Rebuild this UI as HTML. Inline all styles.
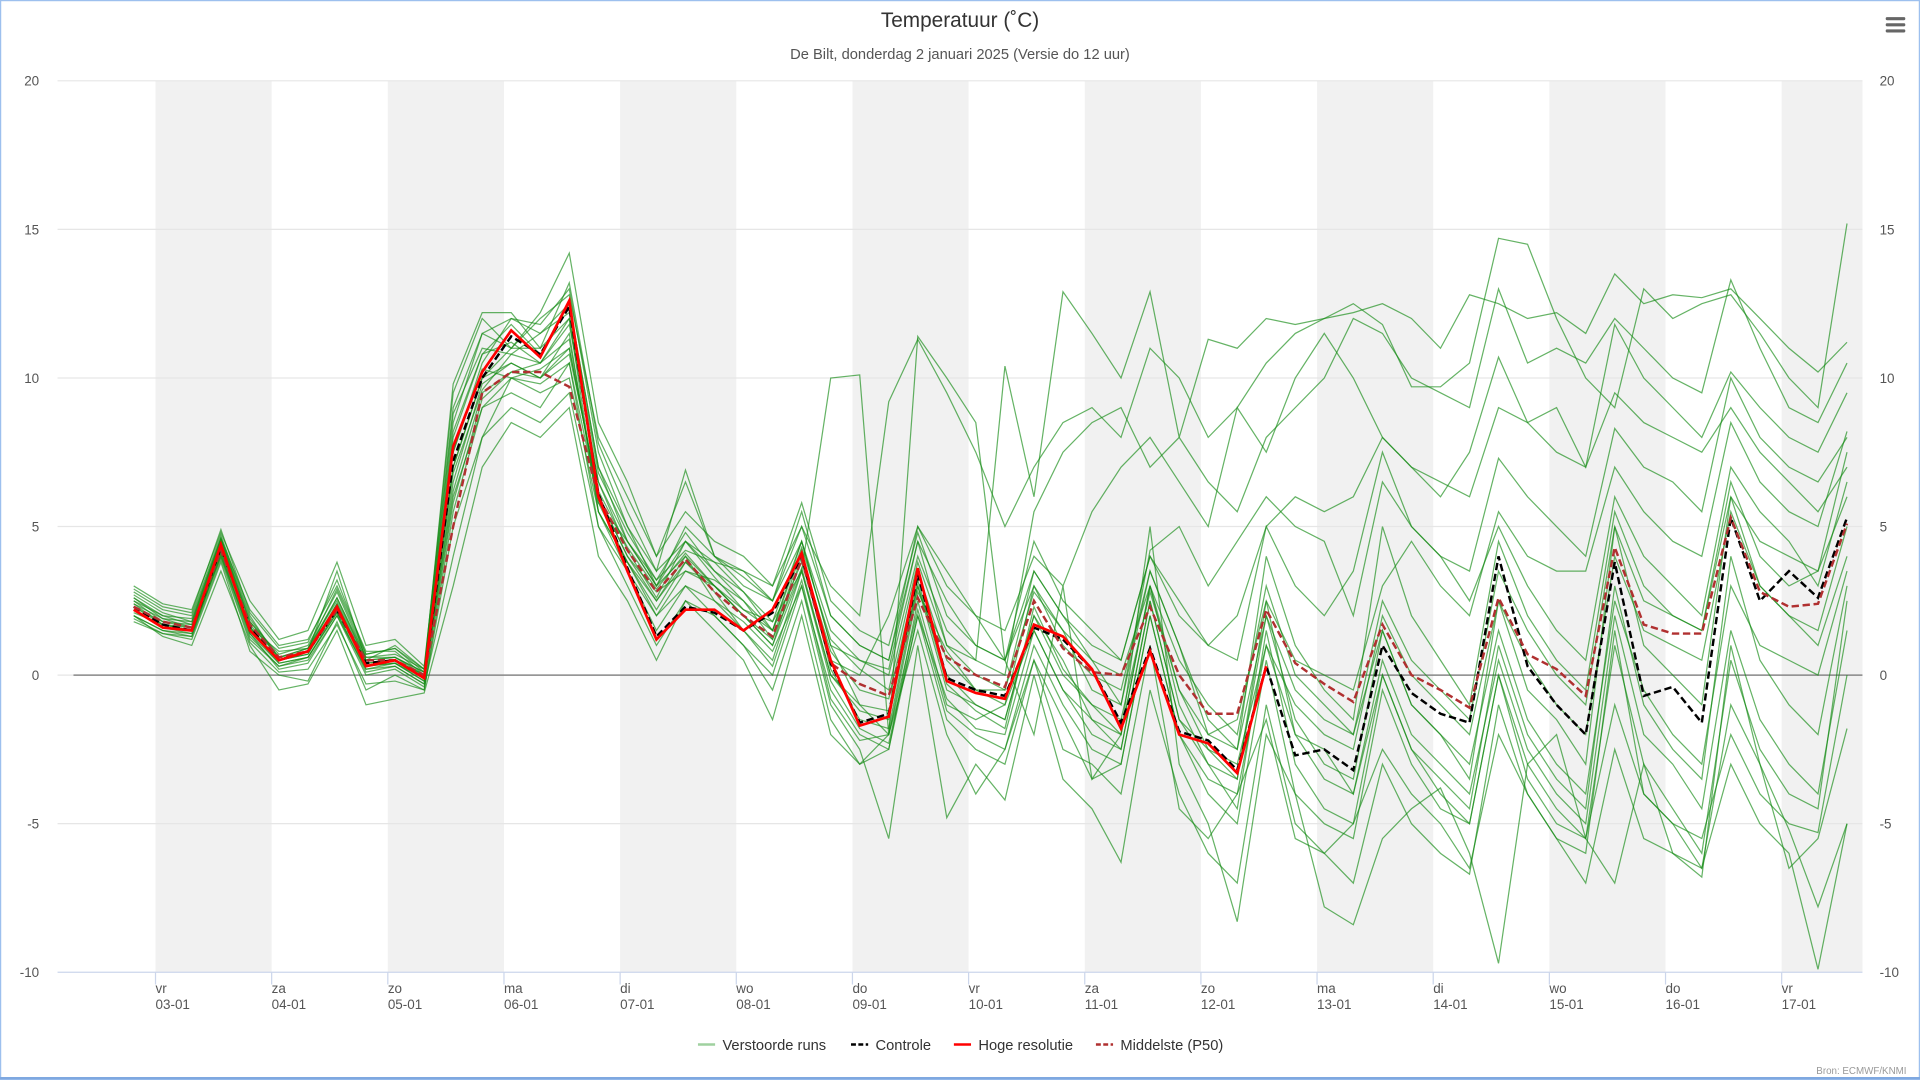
<!DOCTYPE html>
<html><head><meta charset="utf-8">
<style>
html,body{margin:0;padding:0;background:#fff;width:1920px;height:1080px;overflow:hidden}
svg{display:block;font-family:"Liberation Sans",sans-serif}
</style></head>
<body>
<svg id="chart" width="1920" height="1080" viewBox="0 0 1568 882" preserveAspectRatio="none" xmlns="http://www.w3.org/2000/svg">
<rect x="0.5" y="0.5" width="1567" height="881" fill="#fff" stroke="#9dc0ee" stroke-width="1"/>
<line x1="0" y1="880.5" x2="1568" y2="880.5" stroke="#7fa8e0" stroke-width="2"/>
<g id="bands"></g><g id="grid"></g><g id="series"></g><g id="axes"></g>
<text x="784" y="22" text-anchor="middle" font-size="17" fill="#333">Temperatuur (˚C)</text>
<text x="784" y="48" text-anchor="middle" font-size="12" fill="#555">De Bilt, donderdag 2 januari 2025 (Versie do 12 uur)</text>
<g>
<rect x="1540" y="14" width="16" height="2.5" rx="1" fill="#666"/><rect x="1540" y="19" width="16" height="2.5" rx="1" fill="#666"/><rect x="1540" y="24" width="16" height="2.5" rx="1" fill="#666"/>
</g>
<g font-size="12" fill="#333">
<g><line x1="570" y1="853" x2="584" y2="853" stroke="#9fd19f" stroke-width="2"/><text x="590" y="857.5">Verstoorde runs</text></g>
<g><line x1="695" y1="853" x2="709" y2="853" stroke="#000" stroke-width="2" stroke-dasharray="4,2"/><text x="715" y="857.5">Controle</text></g>
<g><line x1="779" y1="853" x2="793" y2="853" stroke="#f00" stroke-width="2"/><text x="799" y="857.5">Hoge resolutie</text></g>
<g><line x1="895" y1="853" x2="909" y2="853" stroke="#b03030" stroke-width="2" stroke-dasharray="4,2"/><text x="915" y="857.5">Middelste (P50)</text></g>
</g>
<text x="1557" y="877" text-anchor="end" font-size="8" fill="#999">Bron: ECMWF/KNMI</text>
</svg>
<script>
const dayNames=["vr","za","zo","ma","di","wo","do","vr","za","zo","ma","di","wo","do","vr"];
const dayDates=["03-01","04-01","05-01","06-01","07-01","08-01","09-01","10-01","11-01","12-01","13-01","14-01","15-01","16-01","17-01"];
const yTicks=[20,15,10,5,0,-5,-10];
const hres=[2.2,1.6,1.5,4.4,1.5,0.5,0.8,2.3,0.3,0.5,-0.1,7.7,10.2,11.6,10.7,12.6,6.0,3.5,1.2,2.2,2.2,1.5,2.2,4.1,0.5,-1.7,-1.4,3.6,-0.2,-0.6,-0.8,1.7,1.3,0.2,-1.8,0.8,-2.0,-2.3,-3.3,0.3];
const controle=[2.3,1.7,1.5,4.3,1.6,0.5,0.8,2.2,0.4,0.5,-0.1,7.2,10.0,11.4,10.8,12.4,6.1,3.6,1.3,2.3,2.1,1.5,2.1,4.0,0.4,-1.6,-1.3,3.4,-0.1,-0.5,-0.7,1.6,1.2,0.2,-1.6,0.9,-1.9,-2.2,-3.2,0.3,-2.7,-2.5,-3.2,1.0,-0.6,-1.3,-1.6,4.0,0.3,-1.0,-2.0,3.8,-0.7,-0.4,-1.6,5.3,2.5,3.5,2.6,5.3];
const p50=[2.3,1.8,1.6,4.2,1.7,0.6,0.8,2.2,0.5,0.5,0.0,5.0,9.5,10.2,10.2,9.7,6.0,4.2,2.8,3.9,2.8,2.0,1.3,3.9,0.4,-0.3,-0.7,2.6,0.6,0.0,-0.4,2.5,0.9,0.1,0.0,2.3,0.0,-1.3,-1.3,2.2,0.4,-0.3,-0.9,1.7,0.0,-0.5,-1.1,2.6,0.7,0.2,-0.7,4.3,1.7,1.4,1.4,5.3,2.8,2.3,2.4,5.1];
const m1=[2.5,1.8,1.7,4.5,1.8,0.7,1.0,2.8,0.6,0.7,0.2,8.5,11.5,12.0,11.8,13.0,7.5,5.0,3.0,4.5,3.5,2.8,1.5,4.5,1.0,0.5,0.2,4.5,1.0,0.5,10.4,6.0,12.9,11.5,10.0,12.9,8.0,11.3,11.0,12.0,11.8,12.0,12.2,12.5,12.0,11.0,12.8,12.5,12.0,12.2,11.5,13.5,12.5,12.8,12.7,13.0,12.0,11.0,10.2,11.2];
const m2=[2.0,1.5,1.4,4.0,1.2,0.3,0.5,2.0,0.2,0.3,-0.3,6.5,9.8,10.5,10.0,11.5,5.5,3.8,2.0,3.5,3.0,2.2,1.8,3.5,10.0,10.1,-2.0,11.4,10.0,8.5,0.5,-2.0,3.0,-3.5,-2.0,5.0,-3.0,-5.0,-8.3,-2.0,-4.0,-7.8,-8.4,-5.5,-4.5,-3.8,-6.0,-9.7,-3.0,-2.0,-5.5,-7.0,-3.0,-6.0,-6.8,1.0,-3.0,-5.2,-7.8,-5.0];
const m3=[2.8,2.2,2.0,4.7,2.0,0.5,0.8,3.5,0.5,1.0,0.2,9.5,12.0,11.0,12.0,12.8,8.0,6.0,4.0,6.5,4.0,3.5,3.0,5.0,3.0,2.0,9.2,11.3,9.5,7.5,5.0,7.0,8.5,9.0,8.0,11.0,10.0,8.0,9.0,10.5,11.5,12.0,12.5,11.8,9.7,9.7,10.5,14.7,14.5,12.0,10.0,9.0,13.0,12.0,12.5,12.8,11.5,10.0,9.0,15.2];
const m4=[1.8,1.4,1.2,3.8,0.8,0.0,-0.2,1.8,-0.5,0.0,-0.5,5.0,8.0,9.0,8.5,9.5,5.0,3.5,1.5,3.0,2.0,1.0,-0.5,2.5,-1.5,-3.0,-2.5,2.0,-1.5,-2.5,-3.0,0.5,-2.5,-3.0,-4.0,1.0,-4.5,-5.5,-4.0,-1.5,-5.5,-6.0,-5.0,-2.5,-4.0,-5.0,-6.5,-2.0,-4.0,-5.5,-6.0,1.5,-4.0,-5.0,-6.5,-1.0,-3.0,-6.5,-5.5,-1.8];
const m5=[2.6,2.0,1.9,4.6,2.2,1.0,1.2,3.0,0.8,0.8,0.0,7.5,10.5,12.0,11.5,12.5,7.0,4.5,3.0,5.0,4.0,3.0,2.5,5.5,2.0,1.0,0.5,5.0,3.0,2.0,1.5,4.0,3.0,5.5,7.0,8.0,6.5,5.0,9.0,7.5,10.0,11.5,10.0,8.0,7.0,6.0,7.5,10.7,8.5,9.0,7.0,11.8,10.0,9.0,8.0,10.2,9.0,8.0,7.5,9.5];
const m6=[2.2,1.6,1.5,4.2,1.5,0.4,0.6,2.2,0.3,0.4,-0.2,6.0,9.0,10.0,10.3,11.0,6.0,4.0,2.5,4.0,2.5,1.5,0.5,3.5,0.0,-1.0,-1.2,3.0,0.0,-1.0,-1.5,2.0,0.5,-1.5,-2.0,3.0,-1.0,-3.0,-4.5,1.5,-3.0,-4.5,-5.0,0.0,-2.5,-3.5,-4.5,1.0,-2.0,-3.5,-4.5,3.0,-1.0,-2.5,-3.5,4.0,0.5,-1.0,-2.0,3.0];
const m7=[3.0,2.4,2.2,4.8,2.5,1.2,1.5,3.8,1.0,1.2,0.3,9.0,11.5,11.0,12.2,14.2,8.5,6.5,4.0,5.5,4.5,4.0,3.0,5.8,2.5,1.5,1.0,4.8,2.0,1.0,0.5,3.5,2.0,1.0,0.5,4.0,2.0,1.0,0.5,5.0,3.0,2.0,3.5,7.5,5.0,4.0,3.5,7.3,6.0,5.0,4.0,8.3,7.0,6.5,5.5,10.0,8.0,7.0,6.5,8.0];
const m8=[2.0,1.3,1.0,3.5,1.0,-0.5,-0.3,1.5,-1.0,-0.8,-0.6,3.0,7.0,8.5,8.0,9.0,4.0,2.5,0.5,2.5,1.5,0.5,-1.5,2.0,-2.0,-3.0,-2.0,1.5,-2.0,-4.0,-2.5,0.5,-1.5,-3.5,-3.0,2.0,-2.0,-4.0,-5.0,0.5,-4.0,-5.0,-5.5,-0.5,-3.0,-4.5,-5.0,0.0,-3.5,-5.0,-5.5,-1.0,-4.0,-5.0,-5.5,-2.0,-4.0,-5.0,-5.3,0.0];
const m9=[2.4,1.9,1.6,4.3,1.6,0.8,0.9,2.5,0.5,0.6,0.0,7.0,10.0,11.0,11.0,12.0,6.5,4.5,3.0,4.0,3.0,2.0,1.0,4.0,0.8,-0.5,-0.8,3.5,0.5,-0.5,-1.0,3.0,1.5,-0.5,-1.0,3.5,1.0,-1.5,-2.5,4.0,1.0,-0.5,-1.5,5.0,2.0,0.5,-1.0,4.5,2.0,0.5,-0.5,5.5,3.0,2.0,1.5,6.5,4.0,3.0,3.5,7.5];
const m10=[2.1,1.7,1.5,4.0,1.4,0.2,0.4,2.0,0.0,0.2,-0.4,4.0,8.0,10.0,9.5,10.0,5.5,3.5,2.0,3.0,2.5,1.8,0.8,3.0,-0.5,-2.0,-2.5,2.5,-1.0,-1.5,-1.0,1.5,-0.5,-2.0,-2.5,2.5,-1.5,-2.5,-3.5,2.0,-1.5,-3.0,-3.5,1.5,-1.0,-2.0,-3.5,2.5,-0.5,-1.5,-3.0,5.0,1.0,0.0,-1.0,6.0,3.0,2.0,1.5,5.0];
const m11=[2.7,2.1,1.8,4.6,1.9,0.6,0.8,2.6,0.6,0.6,0.1,8.0,10.8,11.8,10.8,12.5,7.0,5.0,3.5,4.5,3.8,2.8,1.8,4.5,1.5,0.5,0.0,4.0,1.5,0.5,0.0,5.5,7.5,8.5,9.0,7.0,8.0,6.5,5.5,8.0,9.0,10.0,12.0,11.5,10.0,9.5,9.0,13.0,10.5,11.0,10.5,12.0,11.0,10.0,9.5,13.3,11.0,9.0,8.5,10.5];
const m12=[1.9,1.4,1.3,3.9,1.1,0.1,0.2,1.7,-0.3,-0.2,-0.5,5.5,9.0,9.5,9.0,10.5,5.0,3.0,1.0,2.5,2.0,1.0,0.0,3.0,-1.0,-2.5,-5.5,1.0,-4.8,-3.0,-4.2,0.0,-3.5,-4.5,-6.3,-0.5,-4.0,-6.0,-7.0,-1.0,-5.0,-6.0,-7.0,-3.0,-5.0,-6.0,-6.7,-1.0,-4.0,-5.5,-7.0,-2.5,-5.5,-6.0,-6.5,-3.0,-5.0,-6.0,-9.9,-5.0];
const m13=[2.3,1.8,1.6,4.4,1.6,0.5,0.7,2.4,0.4,0.5,0.0,7.0,10.0,10.5,10.0,11.0,6.0,4.0,2.8,3.5,3.2,2.5,1.5,3.8,0.5,0.0,2.0,5.0,3.5,2.0,0.5,3.0,1.0,0.0,-0.5,3.5,1.0,-2.0,-1.5,2.5,0.5,0.0,-0.5,3.0,4.5,3.0,2.0,5.5,4.0,3.5,3.5,7.0,5.5,4.5,4.0,8.5,6.5,5.5,5.0,8.2];
const m14=[2.5,2.0,1.7,4.5,1.7,0.6,0.9,2.9,0.7,0.9,0.1,9.8,12.2,12.2,11.0,13.2,7.8,5.5,3.5,6.9,4.0,3.3,2.5,5.0,2.0,1.0,0.5,4.5,2.5,1.0,0.5,4.5,2.5,1.5,0.5,4.0,2.5,1.0,2.0,5.0,6.0,5.5,6.0,8.0,7.0,6.5,6.0,9.0,8.5,7.5,7.0,9.5,8.5,8.0,7.5,9.0,7.5,6.5,5.5,7.0];
const m15=[2.9,2.3,2.1,4.9,2.1,0.9,1.1,3.2,0.7,0.9,0.2,8.8,11.0,10.8,11.5,12.2,6.8,4.8,3.2,4.8,3.5,2.5,1.2,4.2,0.2,-1.5,-1.8,3.0,-0.5,-1.0,-1.5,2.0,0.0,-1.0,-2.0,3.0,-0.5,-2.5,-3.0,1.0,-1.0,-2.0,-2.5,2.0,0.0,-1.0,-2.0,2.5,0.5,-1.0,-2.0,4.0,1.5,1.0,0.5,5.5,3.0,2.0,1.0,4.0];
const m16=[2.0,1.5,1.3,4.1,1.3,0.3,0.6,2.1,0.1,0.3,-0.3,5.8,9.3,10.2,10.5,11.3,5.8,3.8,2.2,3.8,2.8,1.5,0.3,3.2,-0.8,-2.2,-2.0,2.2,-1.2,-2.0,-2.5,1.0,-1.0,-2.5,-3.0,2.0,-2.0,-3.5,-4.0,1.0,-2.0,-3.5,-4.0,0.5,-2.0,-3.0,-4.0,0.5,-2.5,-4.0,-5.0,2.0,-2.0,-3.0,-4.5,1.5,-1.5,-3.0,-4.0,1.5];
const m17=[2.4,1.7,1.5,4.3,1.5,0.5,0.7,2.3,0.3,0.4,-0.1,7.5,10.3,10.0,9.8,10.5,5.8,4.5,3.2,4.2,3.8,3.5,2.5,4.5,1.0,-1.0,-2.0,2.8,0.8,-0.5,-0.5,3.5,2.0,0.5,-1.0,4.2,5.0,3.0,4.5,6.0,5.0,4.5,2.0,6.5,5.0,4.0,2.5,5.0,3.0,1.5,0.5,6.0,4.0,3.0,2.0,7.0,5.5,4.5,3.0,6.5];
const m18=[2.2,1.6,1.4,4.1,1.4,0.4,0.6,2.1,0.2,0.4,-0.2,6.8,9.6,10.8,10.5,12.0,5.5,3.8,2.5,3.8,3.0,2.0,1.0,3.5,-0.2,-1.8,-2.3,2.0,-0.8,-1.8,-2.0,1.5,-0.5,-1.5,-2.5,2.5,-1.5,-3.0,-3.5,2.5,-2.0,-2.5,-4.0,0.0,-2.5,-4.0,-5.0,0.0,-3.0,-4.5,-5.5,1.0,-3.0,-4.5,-6.0,0.5,-2.5,-4.0,-4.5,2.5];
const m19=[2.6,1.9,1.8,4.6,1.8,0.6,0.9,2.6,0.5,0.6,0.1,8.2,10.8,11.2,10.5,11.8,6.5,4.2,2.6,4.5,3.3,2.2,1.5,4.3,1.2,0.2,-0.5,3.8,1.0,0.0,-0.5,2.8,1.5,0.5,0.0,3.0,0.5,-1.0,-2.0,3.0,0.0,-1.0,-2.0,2.5,0.5,-0.5,-1.5,3.5,1.5,0.0,-1.0,5.0,2.5,2.0,1.5,6.0,4.5,4.0,3.5,6.0];
const m20=[2.3,1.7,1.6,4.2,1.6,0.5,0.8,2.4,0.4,0.5,0.0,6.2,9.5,10.2,10.0,10.8,6.2,4.3,2.9,4.1,3.0,2.0,1.2,3.6,0.0,-1.2,-1.5,3.2,-0.3,-1.2,-1.8,2.3,0.2,-1.0,-1.5,2.8,-0.5,-2.0,-2.5,2.0,-0.5,-1.5,-2.0,1.5,-1.0,-2.0,-3.0,1.5,-1.5,-3.0,-4.0,2.5,-0.5,-2.0,-3.0,3.0,1.0,0.5,0.0,3.5];
const members=[m1,m2,m3,m4,m5,m6,m7,m8,m9,m10,m11,m12,m13,m14,m15,m16,m17,m18,m19,m20];

const NS="http://www.w3.org/2000/svg";
const PL=47,PR=1521,PT=66,PB=794,YMIN=-10,YMAX=20;
const DAY0=127,DAYW=94.86;
function yScale(v){return PB-(v-YMIN)/(YMAX-YMIN)*(PB-PT);}
function xScale(i){return DAY0+(i*6-4.5)*DAYW/24;}
function mk(tag,attrs,parent){const e=document.createElementNS(NS,tag);for(const k in attrs)e.setAttribute(k,attrs[k]);parent.appendChild(e);return e;}
const bands=document.getElementById('bands'),grid=document.getElementById('grid'),series=document.getElementById('series'),axes=document.getElementById('axes');
for(let d=0;d<dayNames.length;d+=2){
  const x0=DAY0+d*DAYW,x1=Math.min(x0+DAYW,PR);
  const r=mk('rect',{x:x0,y:PT,width:x1-x0,height:PB-PT,fill:'#f1f1f1'},bands);
  
  
}
yTicks.forEach(v=>{
  const y=yScale(v);
  const l=mk('line',{x1:PL,x2:PR,y1:y,y2:y,stroke:v===-10?'#ccd6eb':'#e6e6e6','stroke-width':1},grid);
  
  
  const t1=mk('text',{x:32,y:y+4,'text-anchor':'end','font-size':11,fill:'#555'},axes);t1.textContent=v;
  
  
  const t2=mk('text',{x:1535,y:y+4,'text-anchor':'start','font-size':11,fill:'#555'},axes);t2.textContent=v;
  
  
});
const zl=mk('line',{x1:60,x2:PR,y1:yScale(0),y2:yScale(0),stroke:'#888','stroke-width':1.2},grid);


dayNames.forEach((n,d)=>{
  const x=DAY0+d*DAYW;
  const tk=mk('line',{x1:x,x2:x,y1:PB,y2:PB+10,stroke:'#ccd6eb'},axes);
  
  
  const t=mk('text',{x:x,y:811,'font-size':11,fill:'#555'},axes);t.textContent=n;
  
  
  const t2=mk('text',{x:x,y:824,'font-size':11,fill:'#555'},axes);t2.textContent=dayDates[d];
  
  
});
function pts(arr){return arr.map((v,i)=>xScale(i).toFixed(1)+','+yScale(v).toFixed(1)).join(' ');}
members.forEach(m=>{
  const p=mk('polyline',{points:pts(m),fill:'none',stroke:'#138a13','stroke-opacity':0.65,'stroke-width':1},series);
  
  
});
const pc=mk('polyline',{points:pts(controle),fill:'none',stroke:'#000','stroke-width':2,'stroke-dasharray':'6,3'},series);


const pp=mk('polyline',{points:pts(p50),fill:'none',stroke:'#b03030','stroke-width':2,'stroke-dasharray':'6,3'},series);


const ph=mk('polyline',{points:pts(hres),fill:'none',stroke:'#f00','stroke-width':2.2},series);


</script>
</body></html>
